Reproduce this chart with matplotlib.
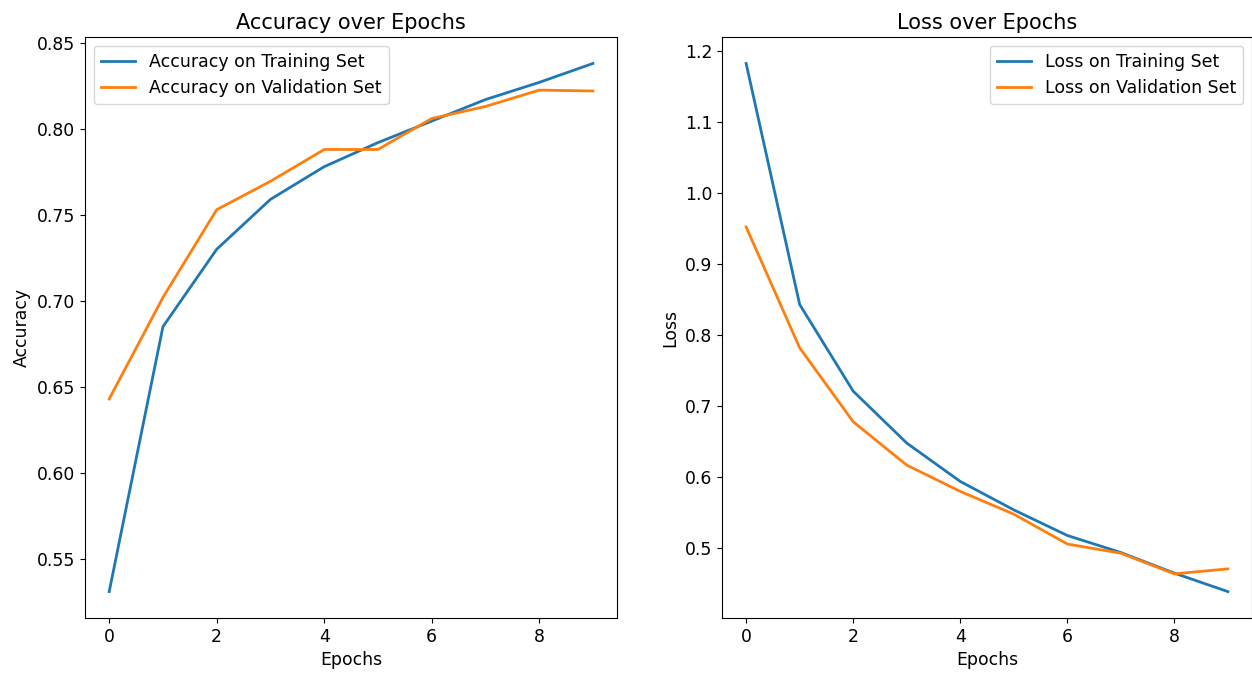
import matplotlib
matplotlib.use("Agg")
import matplotlib.pyplot as plt

epochs = list(range(10))
train_acc = [0.531, 0.685, 0.730, 0.759, 0.778, 0.792, 0.8045, 0.817, 0.827, 0.838]
val_acc = [0.643, 0.702, 0.753, 0.7695, 0.788, 0.788, 0.806, 0.813, 0.8225, 0.822]
train_loss = [1.182, 0.843, 0.721, 0.648, 0.594, 0.554, 0.518, 0.494, 0.465, 0.439]
val_loss = [0.952, 0.782, 0.678, 0.617, 0.580, 0.548, 0.506, 0.493, 0.464, 0.471]

plt.rcParams['font.size'] = 12.4
plt.rcParams['lines.linewidth'] = 2.0
fig = plt.figure(figsize=(12.52, 6.75), dpi=100)
ax1 = fig.add_axes([0.0679, 0.0844, 0.425, 0.8607])
ax2 = fig.add_axes([0.5767, 0.0844, 0.4233, 0.8607])

ax1.plot(epochs, train_acc, label='Accuracy on Training Set')
ax1.plot(epochs, val_acc, label='Accuracy on Validation Set')
ax1.set_title('Accuracy over Epochs', fontsize=15)
ax1.set_xlabel('Epochs')
ax1.set_ylabel('Accuracy')
ax1.legend(loc='upper left', fontsize=12.5)

ax2.plot(epochs, train_loss, label='Loss on Training Set')
ax2.plot(epochs, val_loss, label='Loss on Validation Set')
ax2.set_title('Loss over Epochs', fontsize=15)
ax2.set_xlabel('Epochs')
ax2.set_ylabel('Loss')
ax2.legend(loc='upper right', fontsize=12.5)

fig.savefig('out.png', dpi=100)
